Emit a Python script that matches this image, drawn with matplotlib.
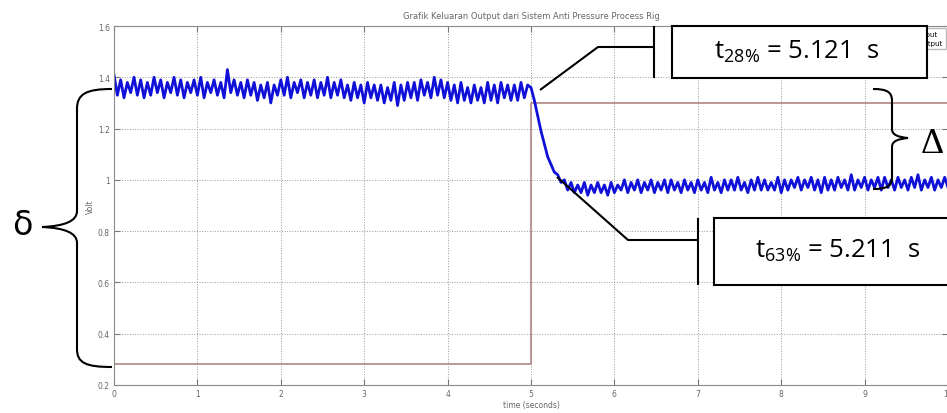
import matplotlib.pyplot as plt
import numpy as np
from matplotlib.path import Path
from matplotlib.patches import PathPatch, Rectangle
from matplotlib.lines import Line2D
from matplotlib.transforms import Affine2D

W, H, DPI = 947, 414, 100

# sampled output voltage, one value every DT seconds
DT = 0.04
output_before = [
    1.41, 1.33, 1.39, 1.32, 1.38, 1.34, 1.40, 1.33, 1.39, 1.32,
    1.38, 1.33, 1.40, 1.34, 1.39, 1.32, 1.38, 1.34, 1.40, 1.33,
    1.39, 1.32, 1.38, 1.34, 1.39, 1.33, 1.40, 1.32, 1.38, 1.34,
    1.39, 1.33, 1.38, 1.32, 1.43, 1.34, 1.39, 1.33, 1.38, 1.32,
    1.39, 1.33, 1.38, 1.31, 1.37, 1.32, 1.38, 1.30, 1.37, 1.33,
    1.39, 1.33, 1.40, 1.32, 1.38, 1.34, 1.39, 1.32, 1.38, 1.33,
    1.39, 1.32, 1.38, 1.33, 1.40, 1.32, 1.38, 1.33, 1.39, 1.32,
    1.37, 1.31, 1.38, 1.32, 1.37, 1.30, 1.38, 1.32, 1.37, 1.31,
    1.37, 1.30, 1.36, 1.31, 1.38, 1.29, 1.37, 1.31, 1.38, 1.32,
    1.38, 1.31, 1.39, 1.33, 1.38, 1.32, 1.40, 1.33, 1.39, 1.32,
    1.38, 1.31, 1.37, 1.30, 1.38, 1.31, 1.36, 1.30, 1.37, 1.31,
    1.36, 1.30, 1.38, 1.31, 1.37, 1.30, 1.38, 1.32, 1.37, 1.31,
    1.37, 1.31, 1.38, 1.32, 1.37,
]
output_after = [
    1.36, 1.31, 1.25, 1.19, 1.14, 1.09, 1.06, 1.03, 1.02, 0.99,
    1.00, 0.96, 0.99, 0.95, 0.98, 0.95, 0.99, 0.94, 0.98, 0.95,
    0.99, 0.95, 0.98, 0.94, 0.99, 0.95, 0.98, 0.96, 1.00, 0.95,
    0.99, 0.96, 1.00, 0.95, 0.99, 0.96, 1.00, 0.95, 0.99, 0.96,
    1.00, 0.95, 1.00, 0.96, 0.99, 0.95, 1.00, 0.96, 0.99, 0.95,
    1.00, 0.96, 0.99, 0.95, 1.01, 0.96, 0.99, 0.95, 1.00, 0.96,
    1.00, 0.96, 1.01, 0.96, 0.99, 0.95, 1.00, 0.96, 1.01, 0.96,
    1.00, 0.96, 0.99, 0.96, 1.01, 0.95, 1.00, 0.96, 1.00, 0.97,
    1.01, 0.96, 1.00, 0.97, 1.01, 0.96, 1.00, 0.95, 1.01, 0.96,
    1.00, 0.96, 1.01, 0.97, 1.00, 0.96, 1.02, 0.96, 1.00, 0.97,
    1.01, 0.96, 1.00, 0.97, 1.01, 0.96, 1.01, 0.97, 1.00, 0.96,
    1.01, 0.97, 1.00, 0.96, 1.01, 0.97, 1.02, 0.96, 1.00, 0.97,
    1.01, 0.96, 1.00, 0.97, 1.01, 0.97,
]
output_values = output_before + output_after

# input step
step_times = [0, 5, 5, 10]
step_values = [0.28, 0.28, 1.30, 1.30]

x_ticks = [0, 1, 2, 3, 4, 5, 6, 7, 8, 9, 10]
y_ticks = [0.2, 0.4, 0.6, 0.8, 1.0, 1.2, 1.4, 1.6]
y_tick_labels = ['0.2', '0.4', '0.6', '0.8', '1', '1.2', '1.4', '1.6']

fig = plt.figure(dpi=DPI, figsize=(W / DPI, H / DPI))
ax = fig.add_axes([114 / W, 28 / H, 834 / W, 359 / H])

t = np.arange(len(output_values)) * DT
line_in, = ax.plot(step_times, step_values, color='#b08585', lw=1.2)
line_out, = ax.plot(t, output_values, color='#1010d8', lw=2.0)

ax.set_xlim(0, 10)
ax.set_ylim(0.2, 1.6)
ax.set_xticks(x_ticks)
ax.set_yticks(y_ticks)
ax.set_yticklabels(y_tick_labels)
ax.grid(True, linestyle=':', color='#999999', lw=0.7)
ax.tick_params(direction='in', length=4, labelsize=5.5, labelcolor='#666666',
               color='#777777', top=True, right=True, pad=3)
for s in ax.spines.values():
    s.set_color('#8a8a8a')
ax.set_xlabel('time (seconds)', fontsize=5.5, color='#666666', labelpad=1)
ax.set_ylabel('Volt', fontsize=5.5, color='#666666', labelpad=2)
ax.set_title('Grafik Keluaran Output dari Sistem Anti Pressure Process Rig',
             fontsize=6, color='#666666', pad=6)
ax.legend([line_in, line_out], ['Input', 'Output'], loc='upper right',
          fontsize=5, frameon=True, borderaxespad=0.3).get_frame().set_edgecolor('#aaaaaa')

# pixel-coordinate transform for the hand-drawn annotations
pix = Affine2D().scale(1 / W, -1 / H).translate(0, 1) + fig.transFigure


def add_line(xs, ys):
    fig.add_artist(Line2D(xs, ys, color='black', lw=1.5, transform=pix,
                          solid_capstyle='butt', zorder=5))


def add_box(x0, y0, x1, y1, label, cx, cy):
    fig.add_artist(Rectangle((x0, y0), x1 - x0, y1 - y0, transform=pix,
                             facecolor='white', edgecolor='black', lw=1.5, zorder=5))
    fig.text(cx, cy, label, transform=pix, ha='center', va='center',
             fontsize=18.5, family='Open Sans', zorder=6)


# t28% annotation
add_box(672, 27, 927, 79, r'$\mathregular{t_{28\%}}$ = 5.121  s', 797, 52)
add_line([654, 654], [27, 79])
add_line([654, 598, 540], [48, 48, 91])

# t63% annotation
add_box(714, 219, 960, 286, r'$\mathregular{t_{63\%}}$ = 5.211  s', 838, 251)
add_line([698, 698], [219, 286])
add_line([698, 628, 557], [241, 241, 178])

# left brace (delta small)
C4, LT, MT = Path.CURVE4, Path.LINETO, Path.MOVETO
verts = [(112, 90), (86, 90), (77, 95), (77, 110), (77, 212),
         (77, 222), (65, 227), (42, 228),
         (65, 229), (77, 234), (77, 244), (77, 350),
         (77, 364), (86, 368), (112, 368)]
codes = [MT, C4, C4, C4, LT, C4, C4, C4, C4, C4, C4, LT, C4, C4, C4]
fig.add_artist(PathPatch(Path(verts, codes), transform=pix, fill=False,
                         edgecolor='black', lw=1.5, zorder=5))
fig.text(22, 226, 'δ', transform=pix, ha='center', va='center',
         fontsize=24, family='DejaVu Sans')

# right brace (delta capital)
verts = [(873, 90), (887, 90), (892, 93), (892, 102), (892, 130),
         (892, 136), (898, 138), (908, 139),
         (898, 140), (892, 142), (892, 148), (892, 178),
         (892, 187), (887, 190), (873, 190)]
fig.add_artist(PathPatch(Path(verts, codes), transform=pix, fill=False,
                         edgecolor='black', lw=1.5, zorder=5))
fig.text(921, 153, 'Δ', transform=pix, ha='left', va='baseline',
         fontsize=26, family='Liberation Serif')

fig.savefig('out.png', dpi=DPI)
